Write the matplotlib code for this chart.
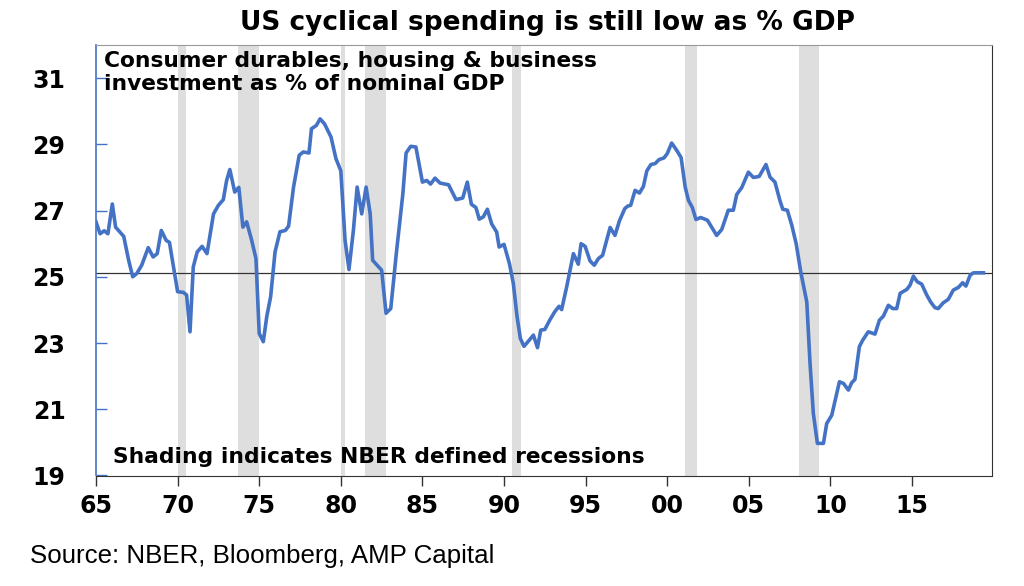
import matplotlib
matplotlib.use("Agg")
import matplotlib.pyplot as plt

# values (year, % of nominal GDP)
years = [1965.0, 1965.25, 1965.5, 1965.73, 1966.0, 1966.2, 1966.7, 1967.0, 1967.25, 1967.5,
         1967.8, 1968.2, 1968.5, 1968.75, 1969.0, 1969.3, 1969.5, 1970.0, 1970.35, 1970.55,
         1970.76, 1970.96, 1971.2, 1971.5, 1971.8, 1972.2, 1972.5, 1972.8, 1973.0, 1973.2,
         1973.5, 1973.75, 1974.0, 1974.23, 1974.54, 1974.8, 1975.0, 1975.25, 1975.46, 1975.7,
         1975.97, 1976.27, 1976.6, 1976.8, 1977.1, 1977.45, 1977.7, 1978.05, 1978.2, 1978.5,
         1978.73, 1979.0, 1979.4, 1979.7, 1980.0, 1980.26, 1980.5, 1980.77, 1981.0, 1981.28,
         1981.55, 1981.8, 1981.95, 1982.5, 1982.77, 1983.06, 1983.4, 1983.8, 1984.0, 1984.28,
         1984.6, 1985.0, 1985.26, 1985.5, 1985.77, 1986.08, 1986.6, 1987.06, 1987.47, 1987.75,
         1988.0, 1988.28, 1988.48, 1988.73, 1988.98, 1989.24, 1989.55, 1989.7, 1990.0, 1990.33,
         1990.57, 1990.8, 1991.0, 1991.22, 1991.5, 1991.8, 1992.05, 1992.25, 1992.5, 1992.8,
         1993.1, 1993.37, 1993.53, 1993.84, 1994.25, 1994.55, 1994.72, 1994.97, 1995.27, 1995.53,
         1995.78, 1996.04, 1996.5, 1996.8, 1997.07, 1997.4, 1997.56, 1997.76, 1998.03, 1998.3,
         1998.54, 1998.75, 1999.0, 1999.26, 1999.5, 1999.8, 2000.0, 2000.27, 2000.58, 2000.85,
         2001.1, 2001.3, 2001.54, 2001.76, 2002.05, 2002.46, 2003.03, 2003.34, 2003.74, 2004.05,
         2004.26, 2004.56, 2004.97, 2005.28, 2005.63, 2006.05, 2006.3, 2006.6, 2006.9, 2007.08,
         2007.36, 2007.63, 2007.9, 2008.18, 2008.55, 2008.75, 2008.95, 2009.2, 2009.57, 2009.77,
         2010.08, 2010.34, 2010.55, 2010.8, 2011.1, 2011.3, 2011.5, 2011.77, 2011.98, 2012.32,
         2012.73, 2013.0, 2013.24, 2013.55, 2013.82, 2014.06, 2014.27, 2014.68, 2014.88, 2015.08,
         2015.32, 2015.59, 2015.9, 2016.14, 2016.4, 2016.6, 2016.9, 2017.22, 2017.53, 2017.84,
         2018.1, 2018.3, 2018.56, 2018.76, 2019.37]
spend = [26.66, 26.3, 26.39, 26.3, 27.2, 26.5, 26.22, 25.5, 25.0, 25.1,
         25.35, 25.88, 25.6, 25.7, 26.4, 26.1, 26.04, 24.55, 24.53, 24.45,
         23.34, 25.3, 25.75, 25.92, 25.7, 26.9, 27.16, 27.33, 27.9, 28.24,
         27.56, 27.7, 26.5, 26.66, 26.1, 25.55, 23.29, 23.04, 23.79, 24.4,
         25.75, 26.36, 26.4, 26.53, 27.7, 28.67, 28.77, 28.74, 29.47, 29.57,
         29.77, 29.62, 29.22, 28.57, 28.2, 26.1, 25.22, 26.4, 27.71, 26.9,
         27.71, 26.9, 25.5, 25.2, 23.9, 24.04, 25.7, 27.5, 28.74, 28.94,
         28.92, 27.86, 27.91, 27.8, 27.98, 27.83, 27.78, 27.33, 27.38, 27.86,
         27.19, 27.09, 26.74, 26.81, 27.04, 26.6, 26.35, 25.9, 25.98, 25.4,
         24.8, 23.79, 23.14, 22.9, 23.06, 23.24, 22.86, 23.39, 23.41, 23.69,
         23.94, 24.11, 24.01, 24.7, 25.7, 25.38, 26.0, 25.92, 25.48, 25.35,
         25.55, 25.65, 26.49, 26.25, 26.69, 27.06, 27.13, 27.16, 27.61, 27.53,
         27.73, 28.2, 28.39, 28.42, 28.54, 28.59, 28.72, 29.04, 28.82, 28.6,
         27.71, 27.31, 27.09, 26.73, 26.79, 26.71, 26.25, 26.43, 27.01, 27.01,
         27.49, 27.69, 28.16, 28.0, 28.03, 28.39, 28.01, 27.86, 27.31, 27.04,
         27.01, 26.56, 26.0, 25.15, 24.24, 22.38, 20.88, 19.97, 19.97, 20.57,
         20.82, 21.38, 21.83, 21.78, 21.58, 21.8, 21.9, 22.89, 23.09, 23.34,
         23.27, 23.69, 23.81, 24.14, 24.04, 24.04, 24.5, 24.62, 24.75, 25.02,
         24.85, 24.78, 24.45, 24.24, 24.07, 24.04, 24.21, 24.32, 24.6, 24.68,
         24.82, 24.72, 25.05, 25.12, 25.12]
latest_level = 25.13

# NBER recessions (start, end) as drawn
rec_start = [1970.0, 1973.72, 1980.0, 1981.5, 1990.5, 2001.07, 2008.1]
rec_end = [1970.5, 1975.0, 1980.28, 1982.77, 1991.06, 2001.8, 2009.3]

tick_years = [1965, 1970, 1975, 1980, 1985, 1990, 1995, 2000, 2005, 2010, 2015]
tick_labels = ["65", "70", "75", "80", "85", "90", "95", "00", "05", "10", "15"]
y_ticks = [19, 21, 23, 25, 27, 29, 31]

blue = "#4472C4"
bold_font = ['DejaVu Sans']
plt.rcParams['font.family'] = ['DejaVu Sans']

fig = plt.figure(figsize=(10.24, 5.86), dpi=100)
ax = fig.add_axes([96/1024, 1-475.5/586, (991.7-96)/1024, (475.5-45)/586])

for s, e in zip(rec_start, rec_end):
    ax.axvspan(s, e, color="#DEDEDE", lw=0, zorder=0)

ax.axhline(latest_level, color="#333333", lw=0.9, zorder=1)
ax.plot(years, spend, color=blue, lw=2.6, zorder=3)

ax.set_xlim(1965, 2019.88)
ax.set_ylim(19, 32)
ax.set_xticks(tick_years)
ax.set_xticklabels(tick_labels)
ax.set_yticks(y_ticks)

ax.tick_params(axis='y', direction='in', length=8, width=1, color=blue, pad=22,
               labelsize=17)
ax.tick_params(axis='x', direction='out', length=7, width=1, color="#333333", pad=6,
               labelsize=17)
for lab in ax.get_xticklabels() + ax.get_yticklabels():
    lab.set_fontweight('bold')

ax.spines['left'].set_color(blue)
ax.spines['left'].set_linewidth(1.2)
ax.spines['bottom'].set_color("#333333")
ax.spines['right'].set_color("#333333")
ax.spines['top'].set_color("#999999")
for sp in ax.spines.values():
    sp.set_zorder(4)

fig.text(547/1024, 1-30.5/586, "US cyclical spending is still low as % GDP",
         ha='center', va='baseline', fontsize=19, fontweight='bold', family=bold_font)
# baseline alignment of a two-line text follows its last line
fig.text(104/1024, 1-90/586, "Consumer durables, housing & business\ninvestment as % of nominal GDP",
         ha='left', va='baseline', fontsize=15.7, fontweight='bold', linespacing=1.2,
         family=bold_font)
fig.text(113/1024, 1-463/586, "Shading indicates NBER defined recessions",
         ha='left', va='baseline', fontsize=15.7, fontweight='bold', family=bold_font)
fig.text(30/1024, 1-563/586, "Source: NBER, Bloomberg, AMP Capital",
         ha='left', va='baseline', fontsize=18.6, family=['Liberation Sans', 'DejaVu Sans'])

fig.savefig("out.png", dpi=100)
